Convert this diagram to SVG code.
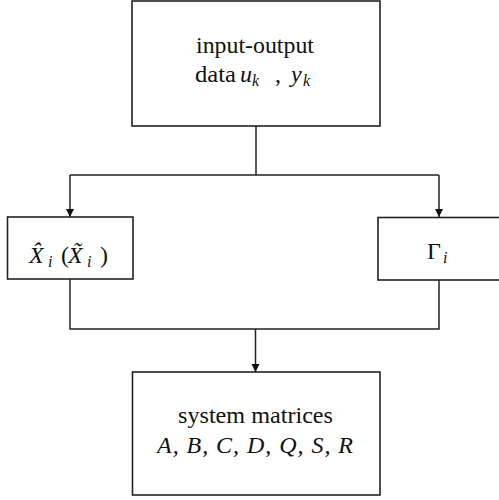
<svg xmlns="http://www.w3.org/2000/svg" width="499" height="500" viewBox="0 0 499 500">
<style>
.box{fill:#fff;stroke:#222;stroke-width:1.6}
.ln{fill:none;stroke:#222;stroke-width:1.5}
.t{font-family:'Liberation Serif','DejaVu Serif',serif;font-size:24px;fill:#111}
.m{font-family:'Liberation Serif','DejaVu Serif',serif;font-size:24px;font-style:italic;fill:#111}
.s{font-family:'Liberation Serif','DejaVu Serif',serif;font-size:16px;font-style:italic;fill:#111}
</style>
<defs>
<marker id="arr" viewBox="0 0 8 10" refX="8" refY="5" markerWidth="8" markerHeight="10" markerUnits="userSpaceOnUse" orient="auto">
<path d="M0,1 L8,5 L0,9 Z" fill="#111"/>
</marker>
</defs>
<rect width="499" height="500" fill="#fff"/>
<g id="connectors">
<path class="ln" d="M256,126 V175 M70,175 H439"/>
<path class="ln" d="M70,175 V217" marker-end="url(#arr)"/>
<path class="ln" d="M439,175 V217" marker-end="url(#arr)"/>
<path class="ln" d="M70,279 V329 H439 V280"/>
<path class="ln" d="M255.5,329 V372" marker-end="url(#arr)"/>
</g>
<g id="input-output">
<rect class="box" x="132" y="1" width="248" height="125"/>
<text class="t" x="196" y="53" textLength="118" lengthAdjust="spacingAndGlyphs">input-output</text>
<text class="t" x="195" y="82" textLength="41" lengthAdjust="spacingAndGlyphs">data</text>
<text class="m" x="240" y="82">u</text>
<text class="s" x="252" y="86">k</text>
<text class="t" x="275" y="82">,</text>
<text class="m" x="291" y="82">y</text>
<text class="s" x="303" y="86">k</text>
</g>
<g id="X-hat">
<rect class="box" x="7.5" y="217" width="125.5" height="62"/>
<text class="m" x="29" y="263">X&#x302;</text>
<text class="s" x="48" y="267">i</text>
<text class="t" x="61" y="263">(</text>
<text class="m" x="68" y="263">X&#x303;</text>
<text class="s" x="87" y="267">i</text>
<text class="t" x="100" y="263">)</text>
</g>
<g id="Gamma">
<rect class="box" x="378" y="217.5" width="130" height="62.5"/>
<text class="t" x="427" y="259">Γ</text>
<text class="s" x="443" y="263">i</text>
</g>
<g id="system-matrices">
<rect class="box" x="132.5" y="372" width="247.5" height="123"/>
<text class="t" x="178" y="423" textLength="155" lengthAdjust="spacingAndGlyphs">system matrices</text>
<text class="m" x="157" y="453" textLength="196" lengthAdjust="spacing">A, B, C, D, Q, S, R</text>
</g>
</svg>
